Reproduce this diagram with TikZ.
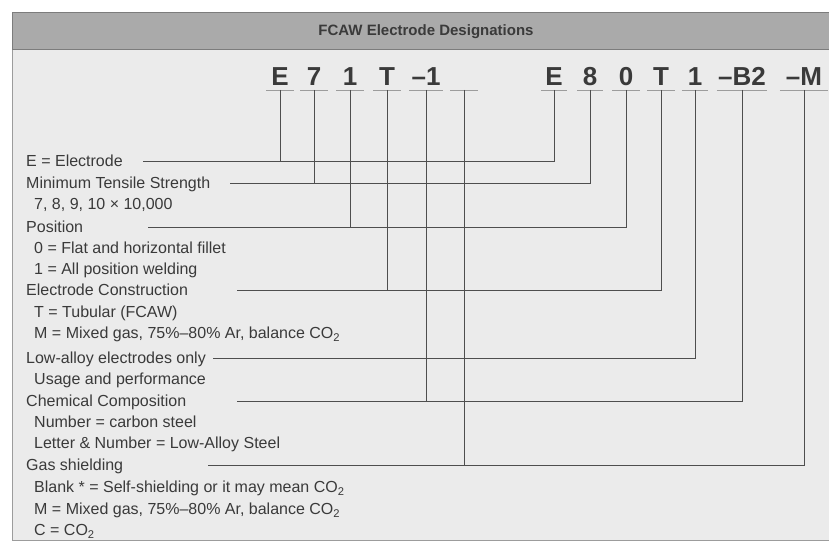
\documentclass[tikz,border=0pt]{standalone}
\usepackage{fontspec}
\setmainfont{Liberation Sans}
\definecolor{panel}{HTML}{EBEBEB}
\definecolor{band}{HTML}{AAAAAA}
\definecolor{bandline}{HTML}{7C7C7C}
\definecolor{ink}{HTML}{3A3A3A}
\definecolor{wire}{HTML}{4E4E4E}
\definecolor{ulgray}{HTML}{9C9C9C}
\tikzset{
  frame/.style={fill=panel,draw=ulgray,line width=1pt},
  header/.style={fill=band,draw=bandline,line width=1pt},
  title/.style={font=\fontsize{15}{18}\selectfont\bfseries,text=ink},
  codech/.style={font=\fontsize{26}{26}\selectfont\bfseries,text=ink,anchor=south,
    inner xsep=0pt,inner ysep=4pt,text height=19pt,text depth=0pt,minimum width=27pt},
  uline/.style={draw=ulgray,line width=0.8pt},
  lab/.style={font=\fontsize{16}{19}\selectfont,text=ink,anchor=west,inner sep=0pt,
    text height=11.5pt,text depth=0pt},
  conn/.style={draw=wire,line width=0.9pt},
}
\begin{document}
\begin{tikzpicture}[x=1pt,y=-1pt]
\useasboundingbox (0,0) rectangle (829,548);
% 枠と見出し
\draw[frame] (12,13) rectangle (845,540);
\draw[header] (12,13) rectangle (845,50);
\node[title] (ttl) at (426,32) {FCAW Electrode Designations};

% 記号 E71T-1
\node[codech] (a1) at (280,90) {E};
\node[codech] (a2) at (314,90) {7};
\node[codech] (a3) at (350,90) {1};
\node[codech] (a4) at (387,90) {T};
\node[codech,minimum width=33pt] (a5) at (426,90) {–1};
\node[codech] (a6) at (464,90) {};

% 記号 E80T1-B2-M
\node[codech,minimum width=25pt] (b1) at (554,90) {E};
\node[codech,minimum width=25pt] (b2) at (590,90) {8};
\node[codech] (b3) at (626,90) {0};
\node[codech] (b4) at (661,90) {T};
\node[codech,minimum width=26pt] (b5) at (695,90) {1};
\node[codech,minimum width=50pt] (b6) at (742,90) {–B2};
\node[codech,minimum width=48pt] (b7) at (804,90) {–M};

% 下線
\draw[uline] (a1.south west) -- (a1.south east);
\draw[uline] (a2.south west) -- (a2.south east);
\draw[uline] (a3.south west) -- (a3.south east);
\draw[uline] (a4.south west) -- (a4.south east);
\draw[uline] (a5.south west) -- (a5.south east);
\draw[uline] (a6.south west) -- (a6.south east);
\draw[uline] (b1.south west) -- (b1.south east);
\draw[uline] (b2.south west) -- (b2.south east);
\draw[uline] (b3.south west) -- (b3.south east);
\draw[uline] (b4.south west) -- (b4.south east);
\draw[uline] (b5.south west) -- (b5.south east);
\draw[uline] (b6.south west) -- (b6.south east);
\draw[uline] (b7.south west) -- (b7.south east);

% 説明
\node[lab] (tE)  at (26,161) {E = Electrode};
\node[lab] (tS)  at (26,183) {Minimum Tensile Strength};
\node[lab] (tS1) at (34,204) {7, 8, 9, 10 × 10,000};
\node[lab] (tP)  at (26,227) {Position};
\node[lab] (tP1) at (34,248) {0 = Flat and horizontal fillet};
\node[lab] (tP2) at (34,269) {1 = All position welding};
\node[lab] (tC)  at (26,290) {Electrode Construction};
\node[lab] (tC1) at (34,312) {T = Tubular (FCAW)};
\node[lab] (tC2) at (34,333) {M = Mixed gas, 75\%–80\% Ar, balance CO\textsubscript{2}};
\node[lab] (tL)  at (26,358) {Low-alloy electrodes only};
\node[lab] (tL1) at (34,379) {Usage and performance};
\node[lab] (tM)  at (26,401) {Chemical Composition};
\node[lab] (tM1) at (34,422) {Number = carbon steel};
\node[lab] (tM2) at (34,443) {Letter \& Number = Low-Alloy Steel};
\node[lab] (tG)  at (26,465) {Gas shielding};
\node[lab] (tG1) at (34,487) {Blank * = Self-shielding or it may mean CO\textsubscript{2}};
\node[lab] (tG2) at (34,509) {M = Mixed gas, 75\%–80\% Ar, balance CO\textsubscript{2}};
\node[lab] (tG3) at (34,530) {C = CO\textsubscript{2}};

% 引出線の左端
\coordinate (eE) at (143,161);
\coordinate (eS) at (230,183);
\coordinate (eP) at (148,227);
\coordinate (eC) at (237,290);
\coordinate (eL) at (213,358);
\coordinate (eM) at (237,401);
\coordinate (eG) at (208,465);

% 引出線
\draw[conn] (b1.south) |- (eE);
\draw[conn] (a1.south) -- (a1.south |- eE);
\draw[conn] (b2.south) |- (eS);
\draw[conn] (a2.south) -- (a2.south |- eS);
\draw[conn] (b3.south) |- (eP);
\draw[conn] (a3.south) -- (a3.south |- eP);
\draw[conn] (b4.south) |- (eC);
\draw[conn] (a4.south) -- (a4.south |- eC);
\draw[conn] (b5.south) |- (eL);
\draw[conn] (b6.south) |- (eM);
\draw[conn] (a5.south) -- (a5.south |- eM);
\draw[conn] (b7.south) |- (eG);
\draw[conn] (a6.south) -- (a6.south |- eG);
\end{tikzpicture}
\end{document}
